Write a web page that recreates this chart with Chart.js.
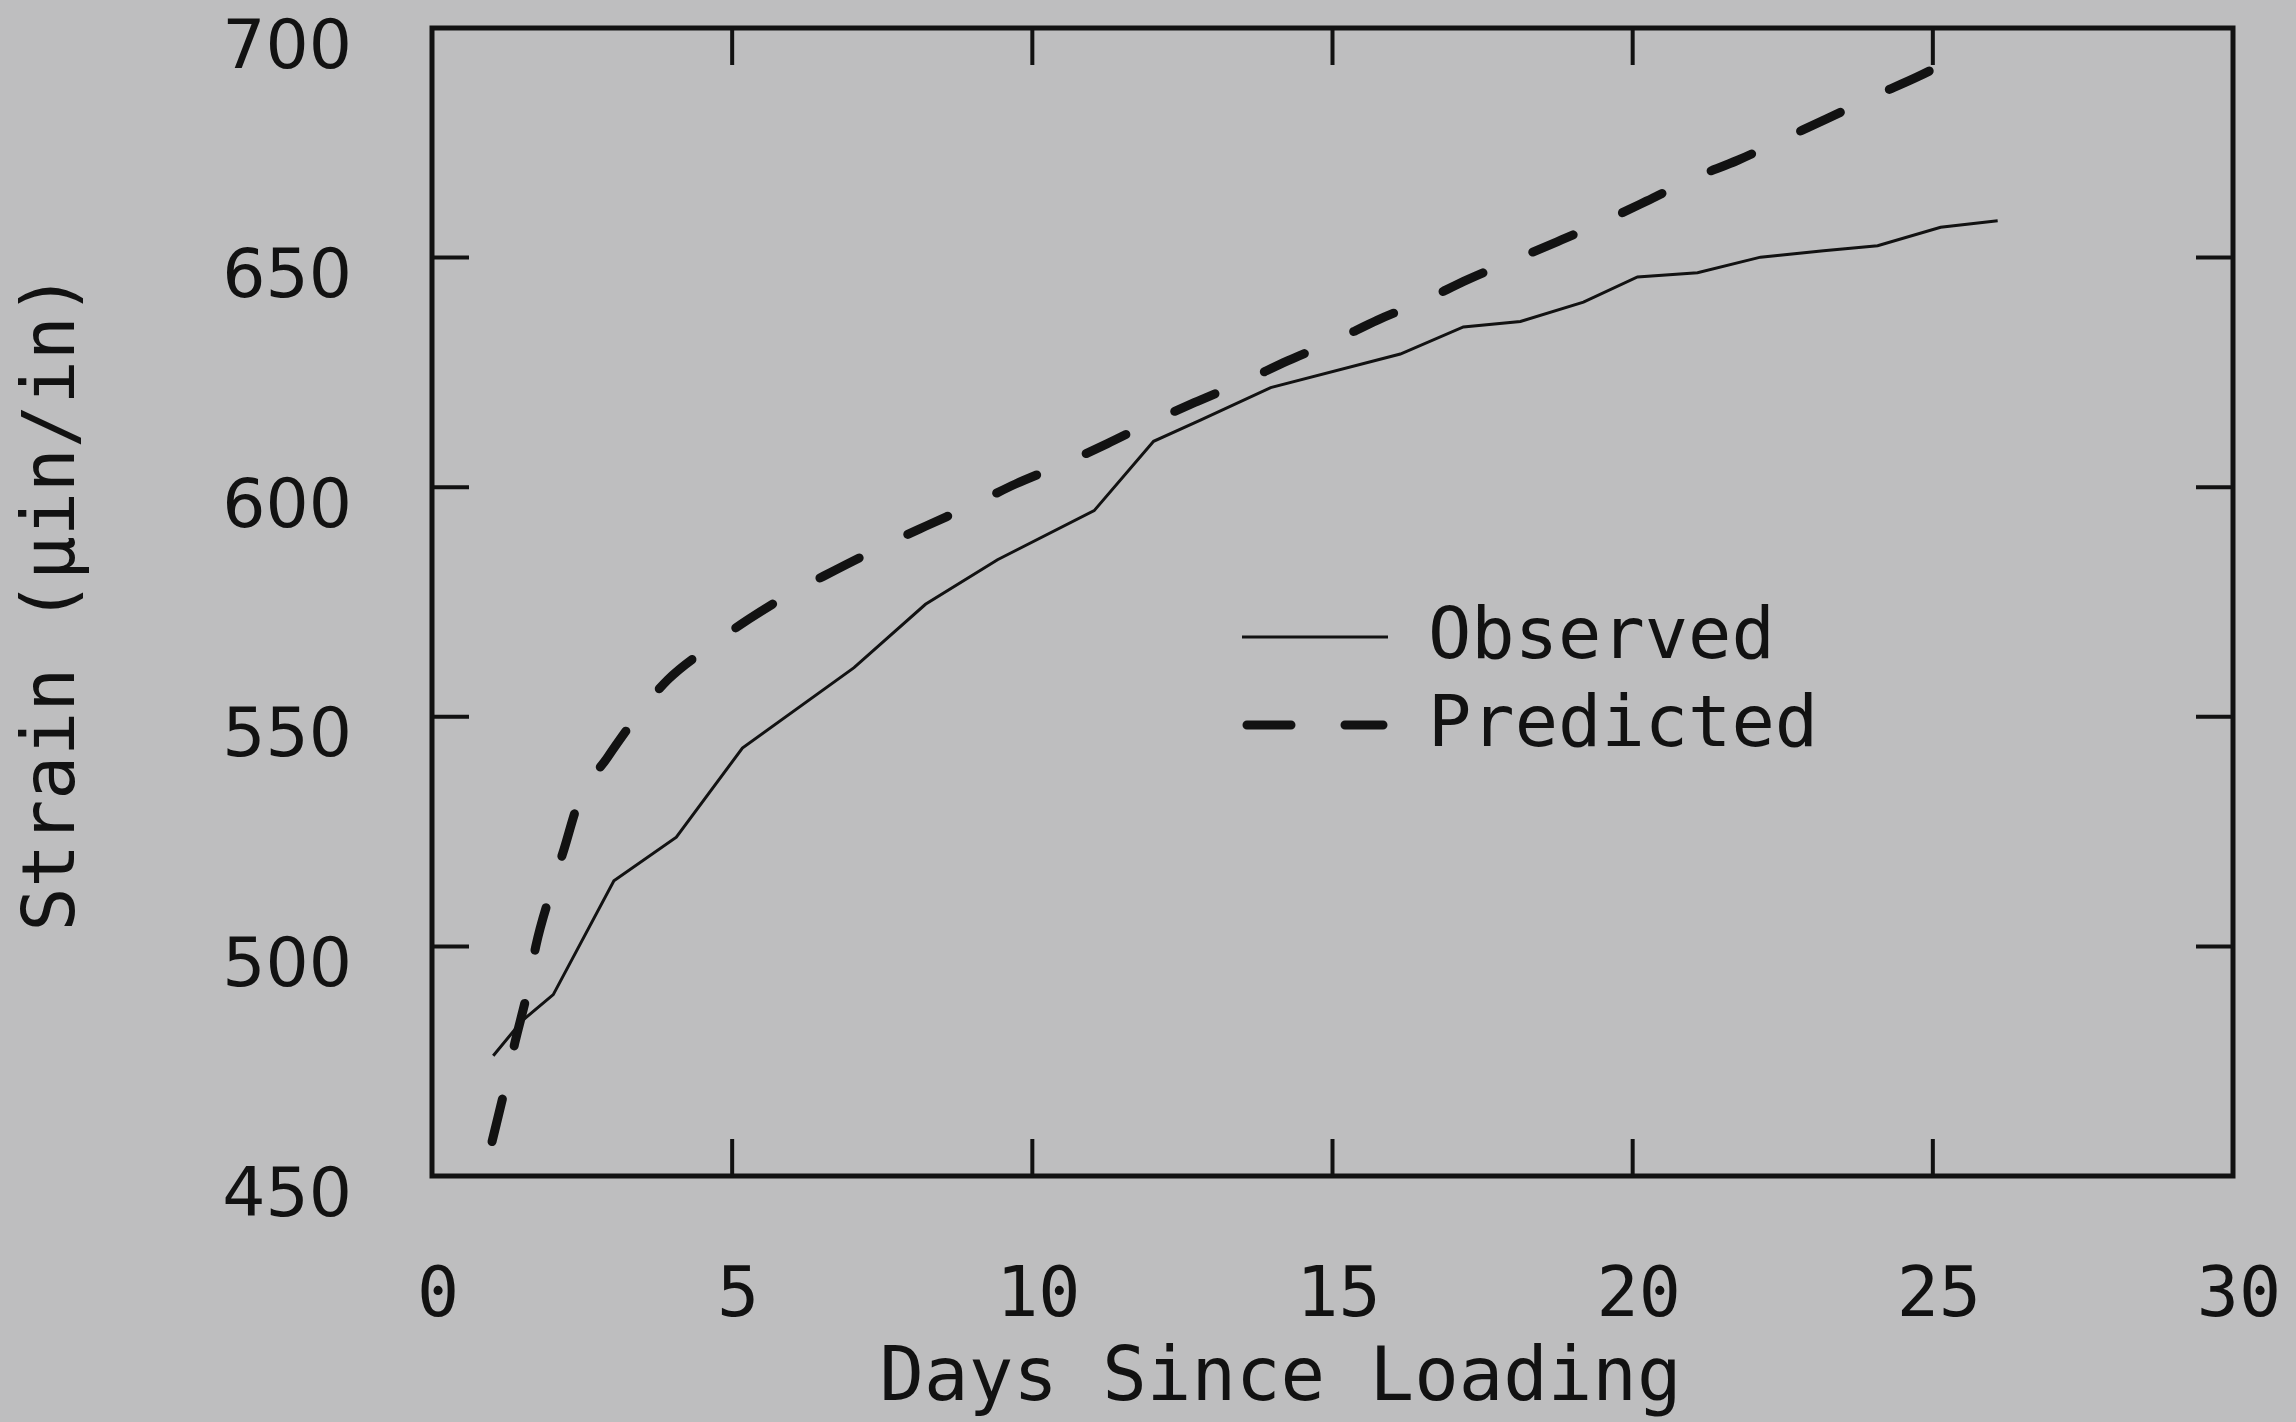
<!DOCTYPE html>
<html>
<head>
<meta charset="utf-8">
<script src="https://cdn.jsdelivr.net/npm/chart.js@4.4.1/dist/chart.umd.min.js"></script>
<style>
  html, body { margin: 0; padding: 0; background: #bebebf; overflow: hidden; }
  canvas { display: block; }
</style>
</head>
<body>
<canvas id="c" width="2296" height="1422"></canvas>
<script>
// ---- data ----
const observedDays   = [1.02, 1.5, 2.02, 3.03, 4.07, 5.17, 7.03, 8.22, 9.42, 11.03, 12.02, 12.8, 13.97, 16.13, 17.18, 18.13, 19.18, 20.08, 21.08, 22.13, 23.18, 24.08, 25.13, 26.08];
const observedStrain = [476.2, 483.8, 489.5, 514.3, 523.8, 543.2, 560.7, 574.5, 584.2, 594.9, 610.0, 614.6, 621.7, 629.0, 634.9, 636.1, 640.3, 645.8, 646.7, 650.1, 651.5, 652.6, 656.6, 658.0];

const predictedDays   = [1.0, 1.22, 1.38, 1.6, 1.73, 1.98, 2.2, 2.45, 2.92, 3.42, 3.93, 4.65, 5.28, 6.02, 6.73, 7.5, 8.22, 9.03, 9.72, 10.52, 11.25, 12.05, 12.75, 13.55, 14.25, 15.05, 15.75, 16.55, 17.25, 18.08, 18.75, 19.57, 20.23, 21.03, 21.75, 22.57, 23.23, 24.03, 24.75, 25.52];
const predictedStrain = [457.5, 469.4, 479.0, 490.8, 500.1, 511.9, 521.2, 531.7, 541.1, 550.2, 558.1, 565.5, 571.3, 577.2, 582.0, 587.1, 591.5, 596.3, 600.7, 605.1, 609.5, 614.6, 618.7, 623.2, 627.5, 632.0, 636.4, 640.8, 645.2, 649.8, 653.5, 658.2, 662.3, 667.4, 671.2, 676.2, 680.2, 685.2, 689.4, 694.5];

const xTickValues = [0, 5, 10, 15, 20, 25, 30];
const yTickValues = [450, 500, 550, 600, 650, 700];

const seriesNames = ['Observed', 'Predicted'];
const xTitle = 'Days Since Loading';
const yTitle = 'Strain (\u03bcin/in)';

// ---- styling ----
const INK = '#121212';
const MONO = "'DejaVu Sans Mono', 'Liberation Mono', monospace";
const SANS = "'DejaVu Sans', 'Liberation Sans', Arial, sans-serif";

const toPoints = (xs, ys) => xs.map((x, i) => ({ x: x, y: ys[i] }));

const zeroPad = s => { s.paddingTop = 0; s.paddingBottom = 0; s.paddingLeft = 0; s.paddingRight = 0; };

const frameAndTicks = {
  id: 'frameAndTicks',
  afterDraw(chart) {
    const { ctx, chartArea: a, scales: { x, y } } = chart;
    ctx.save();
    ctx.strokeStyle = INK;
    ctx.lineCap = 'butt';
    ctx.lineWidth = 4;
    const L = 37;
    xTickValues.forEach(v => {
      const px = x.getPixelForValue(v);
      ctx.beginPath();
      ctx.moveTo(px, a.bottom); ctx.lineTo(px, a.bottom - L);
      ctx.moveTo(px, a.top); ctx.lineTo(px, a.top + L);
      ctx.stroke();
    });
    yTickValues.forEach(v => {
      const py = y.getPixelForValue(v);
      ctx.beginPath();
      ctx.moveTo(a.left, py); ctx.lineTo(a.left + L, py);
      ctx.moveTo(a.right, py); ctx.lineTo(a.right - L, py);
      ctx.stroke();
    });
    ctx.lineWidth = 5;
    ctx.lineJoin = 'miter';
    ctx.strokeRect(a.left, a.top, a.right - a.left, a.bottom - a.top);

    // x-axis title, set slightly left of the axis centre as in the original
    ctx.fillStyle = INK;
    ctx.font = '74px ' + MONO;
    ctx.textAlign = 'center';
    ctx.textBaseline = 'middle';
    ctx.fillText(xTitle, (a.left + a.right) / 2 - 52, 1381);
    ctx.restore();
  }
};

const legendInside = {
  id: 'legendInside',
  afterDraw(chart) {
    const { ctx } = chart;
    const x0 = 1242, x1 = 1388, tx = 1428;
    const rows = [637, 725];
    ctx.save();
    chart.data.datasets.forEach((ds, i) => {
      const yy = rows[i];
      ctx.strokeStyle = ds.borderColor;
      ctx.lineWidth = ds.borderWidth;
      ctx.lineCap = ds.borderCapStyle || 'butt';
      ctx.setLineDash(ds.borderDash || []);
      ctx.beginPath();
      ctx.moveTo(x0 + (ds.borderDash ? 5 : 0), yy);
      ctx.lineTo(x1 - (ds.borderDash ? 5 : 0), yy);
      ctx.stroke();
      ctx.setLineDash([]);
      ctx.fillStyle = INK;
      ctx.font = '72px ' + MONO;
      ctx.textAlign = 'left';
      ctx.textBaseline = 'middle';
      ctx.fillText(ds.label, tx, yy + 2);
    });
    ctx.restore();
  }
};

new Chart(document.getElementById('c'), {
  type: 'line',
  data: {
    datasets: [
      {
        label: seriesNames[0],
        data: toPoints(observedDays, observedStrain),
        borderColor: INK,
        borderWidth: 3,
        pointRadius: 0,
        tension: 0,
        fill: false
      },
      {
        label: seriesNames[1],
        data: toPoints(predictedDays, predictedStrain),
        borderColor: INK,
        borderWidth: 9,
        borderDash: [44, 54],
        borderCapStyle: 'round',
        pointRadius: 0,
        cubicInterpolationMode: 'monotone',
        fill: false
      }
    ]
  },
  options: {
    responsive: false,
    animation: false,
    events: [],
    layout: { padding: { left: 0, top: 28, right: 63, bottom: 0 } },
    plugins: { legend: { display: false }, tooltip: { enabled: false } },
    scales: {
      x: {
        type: 'linear',
        min: 0, max: 30,
        afterBuildTicks: s => { s.ticks = xTickValues.map(v => ({ value: v })); },
        afterFit: s => { s.height = 246; zeroPad(s); },
        grid: { display: false, drawTicks: false },
        border: { display: false },
        ticks: {
          color: INK,
          font: { family: MONO, size: 70 },
          padding: 80,
          labelOffset: 6,
          maxRotation: 0,
          autoSkip: false
        },
        title: { display: false, text: xTitle }
      },
      y: {
        type: 'linear',
        min: 450, max: 700,
        afterBuildTicks: s => { s.ticks = yTickValues.map(v => ({ value: v })); },
        afterFit: s => { s.width = 432; zeroPad(s); },
        grid: { display: false, drawTicks: false },
        border: { display: false },
        ticks: {
          color: INK,
          font: { family: SANS, size: 68 },
          padding: 80,
          labelOffset: 22,
          autoSkip: false
        },
        title: {
          display: true,
          text: yTitle,
          color: INK,
          font: { family: MONO, size: 73, lineHeight: 1 },
          padding: { top: 19, bottom: 0 }
        }
      }
    }
  },
  plugins: [frameAndTicks, legendInside]
});
</script>
</body>
</html>
